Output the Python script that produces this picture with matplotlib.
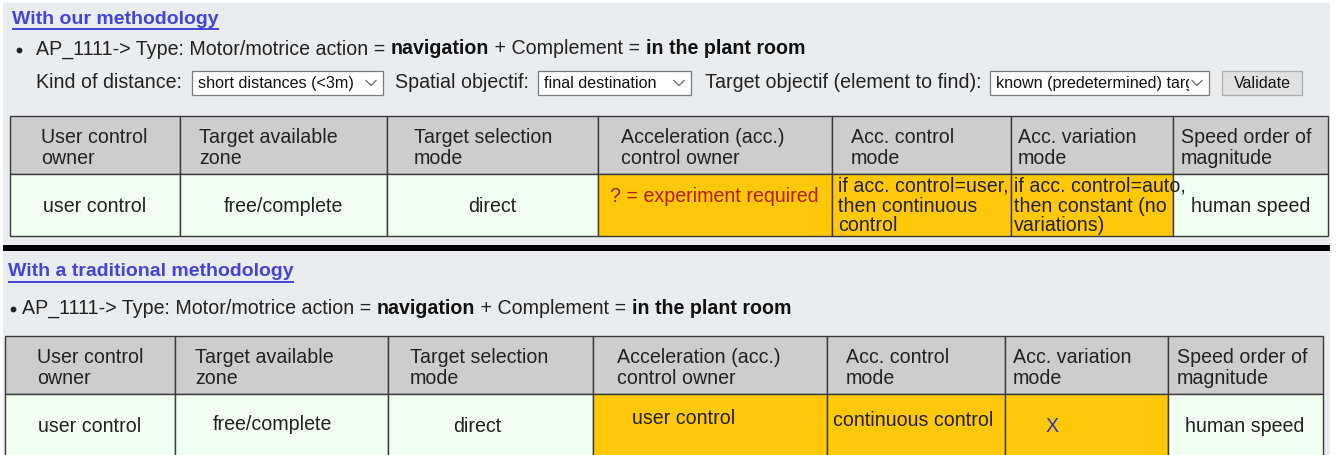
import matplotlib
matplotlib.use("Agg")
import matplotlib.pyplot as plt
from matplotlib.patches import Rectangle
from matplotlib.transforms import Bbox

W, H = 1337, 455

FONT = "Liberation Sans"
FS = 14.1
BG = "#EAEDF0"
LINK = "#4343D6"
TXT = "#222222"
HEAD_BG = "#CDCDCD"
GREEN = "#F0FFF0"
ORANGE = "#FFC80B"
BORDER = "#3A3A3A"

# ---- content -------------------------------------------------------------
TITLES = ["With our methodology", "With a traditional methodology"]
BULLET_PARTS = [
    ("AP_1111-> Type: Motor/motrice action = ", "normal"),
    ("navigation", "bold"),
    (" + Complement = ", "normal"),
    ("in the plant room", "bold"),
]
FILTER_LABELS = ["Kind of distance:", "Spatial objectif:", "Target objectif (element to find):"]
FILTER_VALUES = ["short distances (<3m)", "final destination", "known (predetermined) target"]
BUTTON = "Validate"

HEADERS = [
    "User control\nowner",
    "Target available\nzone",
    "Target selection\nmode",
    "Acceleration (acc.)\ncontrol owner",
    "Acc. control\nmode",
    "Acc. variation\nmode",
    "Speed order of\nmagnitude",
]
ROW_OURS = [
    "user control",
    "free/complete",
    "direct",
    "? = experiment required",
    "if acc. control=user,\nthen continuous\ncontrol",
    "if acc. control=auto,\nthen constant (no\nvariations)",
    "human speed",
]
ROW_TRAD = [
    "user control",
    "free/complete",
    "direct",
    "user control",
    "continuous control",
    "X",
    "human speed",
]
COLORS_OURS = ["g", "g", "g", "o", "o", "o", "g"]
COLORS_TRAD = ["g", "g", "g", "o", "o", "o", "g"]

# ---- layout --------------------------------------------------------------
COLS_TOP = [10, 180, 387, 598, 832, 1011, 1173, 1328]
COLS_BOT = [5, 175, 388, 593, 827, 1005, 1168, 1323]
HEAD_PAD_TOP = [31, 19, 27, 23, 19, 7, 8]
HEAD_PAD_BOT = [32, 20, 22, 24, 19, 8, 9]


def fill(ax, x0, y0, x1, y1, color, edge=None, lw=1.0, z=1):
    ax.add_patch(Rectangle((x0, y0), x1 - x0, y1 - y0, facecolor=color,
                           edgecolor=edge if edge else "none", lw=lw, zorder=z))


def text_w(fig, t):
    r = fig.canvas.get_renderer()
    return t.get_window_extent(renderer=r).width


def link_title(fig, ax, x, y, s):
    t = ax.text(x, y, s, fontsize=14, fontweight="bold", color=LINK,
                family=FONT, va="center", ha="left")
    w = text_w(fig, t)
    ax.plot([x, x + w], [y + 10, y + 10], color=LINK, lw=1.4, solid_capstyle="butt")


def bullet_line(fig, ax, xb, xt, y):
    ax.plot([xb + 3], [y + 1], marker="o", ms=4.2, color=TXT, mew=0)
    x = xt
    for s, wt in BULLET_PARTS:
        t = ax.text(x, y, s, fontsize=FS, fontweight=wt, color="#111111" if wt == "bold" else TXT,
                    family=FONT, va="center", ha="left")
        x += text_w(fig, t)


def dropdown(ax, x0, x1, y0, y1, value):
    fill(ax, x0, y0, x1, y1, "white", edge="#7A7A7A", lw=0.9, z=2)
    t = ax.text(x0 + 6, (y0 + y1) / 2 + 0.5, value, fontsize=11.6, color="#111111",
                family=FONT, va="center", ha="left", zorder=3)
    (dx0, dy0), (dx1, dy1) = ax.transData.transform([(x0, y0), (x1 - 20, y1)])
    t.set_clip_box(Bbox.from_extents(min(dx0, dx1), min(dy0, dy1), max(dx0, dx1), max(dy0, dy1)))
    t.set_clip_on(True)
    cx, cy = x1 - 12, (y0 + y1) / 2
    ax.plot([cx - 5, cx, cx + 5], [cy - 2.5, cy + 2.5, cy - 2.5], color="#666666", lw=0.9, zorder=3)


def table(ax, cols, pads, top, mid, bot, row, colors, special):
    for i in range(7):
        x0, x1 = cols[i], cols[i + 1]
        fill(ax, x0, top, x1, mid, HEAD_BG, edge=BORDER, lw=1.0, z=2)
        fill(ax, x0, mid, x1, bot, ORANGE if colors[i] == "o" else GREEN, edge=BORDER, lw=1.0, z=2)
        ax.text(x0 + pads[i], (top + mid) / 2 + 3, HEADERS[i], fontsize=FS, color=TXT,
                family=FONT, va="center", ha="left", linespacing=1.15, zorder=4)
        val = row[i]
        if i in special:
            dx, dy, ha, col = special[i]
            ax.text(x0 + dx if ha == "left" else dx, dy, val, fontsize=FS, color=col,
                    family=FONT, va="center", ha=ha, linespacing=1.06, zorder=4)
        else:
            ax.text((x0 + x1) / 2, (mid + bot) / 2 + 1.5, val, fontsize=FS, color=TXT,
                    family=FONT, va="center", ha="center", zorder=4)


def main():
    fig = plt.figure(figsize=(W / 100, H / 100), dpi=100)
    fig.patch.set_facecolor("white")
    ax = fig.add_axes([0, 0, 1, 1])
    ax.set_xlim(0, W)
    ax.set_ylim(H, 0)
    ax.axis("off")
    fig.canvas.draw()

    fill(ax, 3, 3, 1330, H + 5, BG, z=0)

    # ---- our methodology ----
    link_title(fig, ax, 12, 19, TITLES[0])
    bullet_line(fig, ax, 16, 36, 49)

    lab_y = 82
    ax.text(36, lab_y, FILTER_LABELS[0], fontsize=FS, color=TXT, family=FONT, va="center")
    dropdown(ax, 192, 383, 71, 95, FILTER_VALUES[0])
    ax.text(395, lab_y, FILTER_LABELS[1], fontsize=FS, color=TXT, family=FONT, va="center")
    dropdown(ax, 538, 691, 71, 95, FILTER_VALUES[1])
    ax.text(705, lab_y, FILTER_LABELS[2], fontsize=FS, color=TXT, family=FONT, va="center")
    dropdown(ax, 990, 1209, 71, 95, FILTER_VALUES[2])
    fill(ax, 1222, 71, 1302, 95, "#E1E1E1", edge="#ADADAD", lw=0.9, z=2)
    ax.text(1262, 83, BUTTON, fontsize=11.6, color="#111111", family=FONT,
            va="center", ha="center", zorder=3)

    table(ax, COLS_TOP, HEAD_PAD_TOP, 116, 174, 236, ROW_OURS, COLORS_OURS,
          {3: (12, 196, "left", "#B3200E"),
           4: (6, 206, "left", TXT),
           5: (3, 206, "left", TXT)})

    # divider
    fill(ax, 3, 245, 1330, 251, "#000000", z=3)

    # ---- traditional methodology ----
    link_title(fig, ax, 8, 272, TITLES[1])
    bullet_line(fig, ax, 10, 22, 308)

    table(ax, COLS_BOT, HEAD_PAD_BOT, 336, 394, 470, ROW_TRAD, COLORS_TRAD,
          {0: (90, 426, "center", TXT),
           1: (272, 424, "center", TXT),
           2: (477, 426, "center", TXT),
           3: (684, 419, "center", TXT),
           4: (913, 421, "center", TXT),
           5: (1052, 426, "center", "#3434C8"),
           6: (1245, 426, "center", TXT)})

    fig.savefig("out.png", dpi=100, facecolor="white")
    plt.close(fig)


if __name__ == "__main__":
    main()
